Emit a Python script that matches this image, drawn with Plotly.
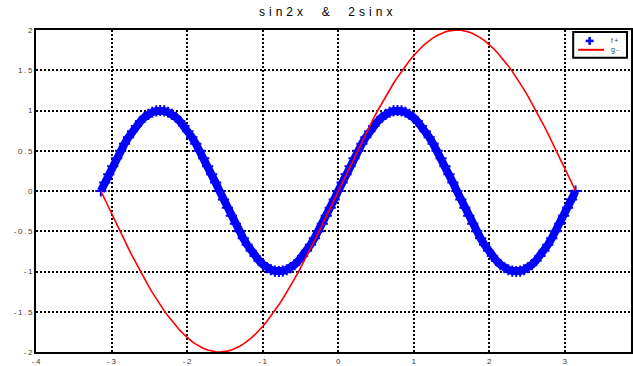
import plotly.graph_objects as go

# Sample points in radians, -pi .. pi in steps of pi/60
x = [-3.1416, -3.0892, -3.0369, -2.9845, -2.9322, -2.8798, -2.8274, -2.7751, -2.7227, -2.6704,
     -2.6180, -2.5656, -2.5133, -2.4609, -2.4086, -2.3562, -2.3038, -2.2515, -2.1991, -2.1468,
     -2.0944, -2.0420, -1.9897, -1.9373, -1.8850, -1.8326, -1.7802, -1.7279, -1.6755, -1.6232,
     -1.5708, -1.5184, -1.4661, -1.4137, -1.3614, -1.3090, -1.2566, -1.2043, -1.1519, -1.0996,
     -1.0472, -0.9948, -0.9425, -0.8901, -0.8378, -0.7854, -0.7330, -0.6807, -0.6283, -0.5760,
     -0.5236, -0.4712, -0.4189, -0.3665, -0.3142, -0.2618, -0.2094, -0.1571, -0.1047, -0.0524,
     0.0000,
     0.0524, 0.1047, 0.1571, 0.2094, 0.2618, 0.3142, 0.3665, 0.4189, 0.4712, 0.5236,
     0.5760, 0.6283, 0.6807, 0.7330, 0.7854, 0.8378, 0.8901, 0.9425, 0.9948, 1.0472,
     1.0996, 1.1519, 1.2043, 1.2566, 1.3090, 1.3614, 1.4137, 1.4661, 1.5184, 1.5708,
     1.6232, 1.6755, 1.7279, 1.7802, 1.8326, 1.8850, 1.9373, 1.9897, 2.0420, 2.0944,
     2.1468, 2.1991, 2.2515, 2.3038, 2.3562, 2.4086, 2.4609, 2.5133, 2.5656, 2.6180,
     2.6704, 2.7227, 2.7751, 2.8274, 2.8798, 2.9322, 2.9845, 3.0369, 3.0892, 3.1416]

# f = sin2x
f = [0.0, 0.1045, 0.2079, 0.3090, 0.4067, 0.5, 0.5878, 0.6691, 0.7431, 0.8090,
     0.8660, 0.9135, 0.9511, 0.9781, 0.9945, 1.0, 0.9945, 0.9781, 0.9511, 0.9135,
     0.8660, 0.8090, 0.7431, 0.6691, 0.5878, 0.5, 0.4067, 0.3090, 0.2079, 0.1045,
     0.0, -0.1045, -0.2079, -0.3090, -0.4067, -0.5, -0.5878, -0.6691, -0.7431, -0.8090,
     -0.8660, -0.9135, -0.9511, -0.9781, -0.9945, -1.0, -0.9945, -0.9781, -0.9511, -0.9135,
     -0.8660, -0.8090, -0.7431, -0.6691, -0.5878, -0.5, -0.4067, -0.3090, -0.2079, -0.1045,
     0.0,
     0.1045, 0.2079, 0.3090, 0.4067, 0.5, 0.5878, 0.6691, 0.7431, 0.8090, 0.8660,
     0.9135, 0.9511, 0.9781, 0.9945, 1.0, 0.9945, 0.9781, 0.9511, 0.9135, 0.8660,
     0.8090, 0.7431, 0.6691, 0.5878, 0.5, 0.4067, 0.3090, 0.2079, 0.1045, 0.0,
     -0.1045, -0.2079, -0.3090, -0.4067, -0.5, -0.5878, -0.6691, -0.7431, -0.8090, -0.8660,
     -0.9135, -0.9511, -0.9781, -0.9945, -1.0, -0.9945, -0.9781, -0.9511, -0.9135, -0.8660,
     -0.8090, -0.7431, -0.6691, -0.5878, -0.5, -0.4067, -0.3090, -0.2079, -0.1045, 0.0]

# g = 2sinx
g = [0.0, -0.1047, -0.2091, -0.3129, -0.4158, -0.5176, -0.6180, -0.7167, -0.8135, -0.9080,
     -1.0, -1.0893, -1.1756, -1.2586, -1.3383, -1.4142, -1.4863, -1.5543, -1.6180, -1.6773,
     -1.7321, -1.7820, -1.8271, -1.8672, -1.9021, -1.9319, -1.9563, -1.9754, -1.9890, -1.9973,
     -2.0, -1.9973, -1.9890, -1.9754, -1.9563, -1.9319, -1.9021, -1.8672, -1.8271, -1.7820,
     -1.7321, -1.6773, -1.6180, -1.5543, -1.4863, -1.4142, -1.3383, -1.2586, -1.1756, -1.0893,
     -1.0, -0.9080, -0.8135, -0.7167, -0.6180, -0.5176, -0.4158, -0.3129, -0.2091, -0.1047,
     0.0,
     0.1047, 0.2091, 0.3129, 0.4158, 0.5176, 0.6180, 0.7167, 0.8135, 0.9080, 1.0,
     1.0893, 1.1756, 1.2586, 1.3383, 1.4142, 1.4863, 1.5543, 1.6180, 1.6773, 1.7321,
     1.7820, 1.8271, 1.8672, 1.9021, 1.9319, 1.9563, 1.9754, 1.9890, 1.9973, 2.0,
     1.9973, 1.9890, 1.9754, 1.9563, 1.9319, 1.9021, 1.8672, 1.8271, 1.7820, 1.7321,
     1.6773, 1.6180, 1.5543, 1.4863, 1.4142, 1.3383, 1.2586, 1.1756, 1.0893, 1.0,
     0.9080, 0.8135, 0.7167, 0.6180, 0.5176, 0.4158, 0.3129, 0.2091, 0.1047, 0.0]

x_ticks = [-4, -3, -2, -1, 0, 1, 2, 3]
x_tick_labels = ["-4", "-3", "-2", "-1", "0", "1", "2", "3"]
y_ticks = [-2, -1.5, -1, -0.5, 0, 0.5, 1, 1.5, 2]
y_tick_labels = ["-2", "-1.5", "-1", "-0.5", "0", "0.5", "1", "1.5", "2"]

series_names = ["f+", "g-"]
title_text = "sin2x  &  2sinx"

W, H = 633, 366
ML, MT, MB, MR = 36, 30, 11, 0
PW, PH = W - ML - MR, H - MT - MB


def spaced(s, sep="\u2009"):
    return sep.join(s)


def px(xp):
    return (xp - ML) / PW


def py(yp):
    return (H - MB - yp) / PH


fig = go.Figure()
# sin2x: densely packed '+' markers that merge into a thick band
fig.add_trace(go.Scatter(
    x=x, y=f, mode="lines+markers", name=series_names[0],
    line=dict(color="#0000ff", width=8),
    marker=dict(symbol="cross-thin", size=8, color="#0000ff",
                line=dict(color="#0000ff", width=2)),
    showlegend=False,
))
fig.add_trace(go.Scatter(
    x=x, y=g, mode="lines", name=series_names[1],
    line=dict(color="#ff0000", width=1.6),
    showlegend=False,
))

tick_font = dict(family="Liberation Sans, Arial, sans-serif", size=8, color="#3a3a3a")
grid = dict(showgrid=True, gridcolor="#000000", gridwidth=1.5, griddash="2px,2px",
            zeroline=False, showline=True, linecolor="#000000", linewidth=2,
            mirror=True, ticks="", tickfont=tick_font)

fig.update_xaxes(range=[-4, 3.876], tickvals=x_ticks,
                 ticktext=[spaced(t) for t in x_tick_labels], **grid)
fig.update_yaxes(range=[-2, 2], tickvals=y_ticks,
                 ticktext=[spaced(t) for t in y_tick_labels], **grid)

# Legend box drawn in the upper right corner of the axes
shapes = [
    dict(type="rect", xref="paper", yref="paper",
         x0=px(575), x1=px(629), y0=py(58), y1=py(32),
         line=dict(color="#000000", width=2), fillcolor="#ffffff", layer="above"),
    dict(type="line", xref="paper", yref="paper",
         x0=px(587.5), x1=px(595.5), y0=py(41), y1=py(41),
         line=dict(color="#0000ff", width=2.5), layer="above"),
    dict(type="line", xref="paper", yref="paper",
         x0=px(591.5), x1=px(591.5), y0=py(37), y1=py(45),
         line=dict(color="#0000ff", width=2.5), layer="above"),
    dict(type="line", xref="paper", yref="paper",
         x0=px(580), x1=px(606), y0=py(50), y1=py(50),
         line=dict(color="#ff0000", width=2), layer="above"),
]
legend_font = dict(family="Liberation Sans, Arial, sans-serif", size=7, color="#444444")
annotations = [
    dict(text=spaced(series_names[0]), xref="paper", yref="paper", x=px(611), y=py(41),
         xanchor="left", yanchor="middle", showarrow=False, font=legend_font),
    dict(text=spaced(series_names[1]), xref="paper", yref="paper", x=px(611), y=py(50),
         xanchor="left", yanchor="middle", showarrow=False, font=legend_font),
    dict(text=spaced(title_text, "\u2004"), xref="paper", yref="paper", x=px(326), y=py(12),
         xanchor="center", yanchor="middle", showarrow=False,
         font=dict(family="Liberation Sans, Arial, sans-serif", size=12, color="#000000")),
]

fig.update_layout(
    width=W, height=H,
    margin=dict(l=ML, r=MR, t=MT, b=MB),
    paper_bgcolor="#ffffff", plot_bgcolor="#ffffff",
    shapes=shapes, annotations=annotations,
    showlegend=False,
)

fig.write_html("out.html")
